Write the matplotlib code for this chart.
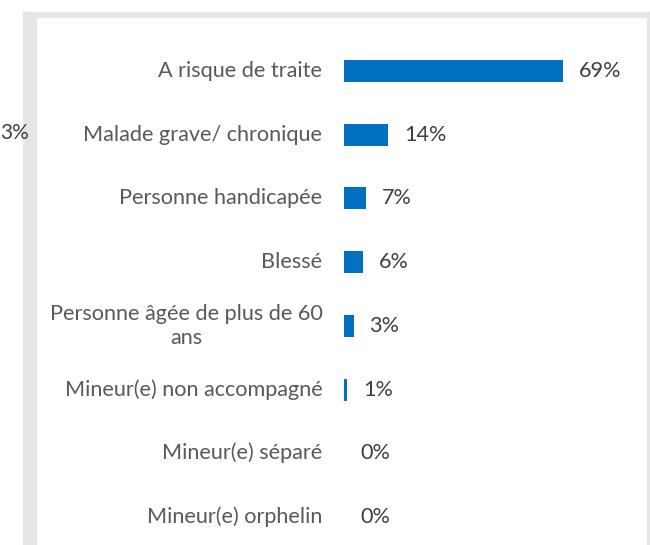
import matplotlib
matplotlib.use("Agg")
import matplotlib.pyplot as plt
from matplotlib.patches import Rectangle

categories = [
    "A risque de traite",
    "Malade grave/ chronique",
    "Personne handicapée",
    "Blessé",
    "Personne âgée de plus de 60\nans",
    "Mineur(e) non accompagné",
    "Mineur(e) séparé",
    "Mineur(e) orphelin",
]
values = [69, 14, 7, 6, 3, 1, 0, 0]
value_labels = ["69%", "14%", "7%", "6%", "3%", "1%", "0%", "0%"]
stray_label = "3%"

W, H = 650, 545
FS = 15.6
fig = plt.figure(figsize=(W / 100, H / 100), dpi=100)
plt.rcParams["font.family"] = ["Lato", "DejaVu Sans"]

gray = "#e6e6e6"
# frame bands
fig.patches.append(Rectangle((23 / W, 0), 13 / W, 1 - 12 / H, transform=fig.transFigure, color=gray, zorder=0))
fig.patches.append(Rectangle((23 / W, 1 - 17 / H), 1, 5 / H, transform=fig.transFigure, color=gray, zorder=0))
fig.patches.append(Rectangle((647 / W, 0), 3 / W, 1 - 12 / H, transform=fig.transFigure, color=gray, zorder=0))

fig.text(0.5 / W, 1 - 133 / H, stray_label, ha="left", va="center", fontsize=FS - 0.6, color="#404040")

px_per_unit = 3.174
ax_left = 344
ax_width = 286
row = 63.7
top = 71 - row / 2
ax = fig.add_axes([ax_left / W, 1 - (top + 8 * row) / H, ax_width / W, 8 * row / H])
ax.set_xlim(0, ax_width / px_per_unit)
ax.set_ylim(7.5, -0.5)
ax.patch.set_alpha(0)

y = list(range(len(categories)))
ax.barh(y, values, height=22 / row, color="#0070c0", linewidth=0)

for yi, v, lab in zip(y, values, value_labels):
    ax.annotate(lab, (v, yi), xytext=(11.5, 0), textcoords="offset points",
                ha="left", va="center", fontsize=FS, color="#404040")

for yi, cat in zip(y, categories):
    ax.annotate(cat, (0, yi), xytext=(-15.5, 0), textcoords="offset points",
                ha="right", va="center", fontsize=FS, color="#595959",
                multialignment="center", linespacing=1.25, annotation_clip=False)

ax.set_xticks([])
ax.set_yticks([])
for s in ax.spines.values():
    s.set_visible(False)

fig.savefig("out.png", dpi=100)
